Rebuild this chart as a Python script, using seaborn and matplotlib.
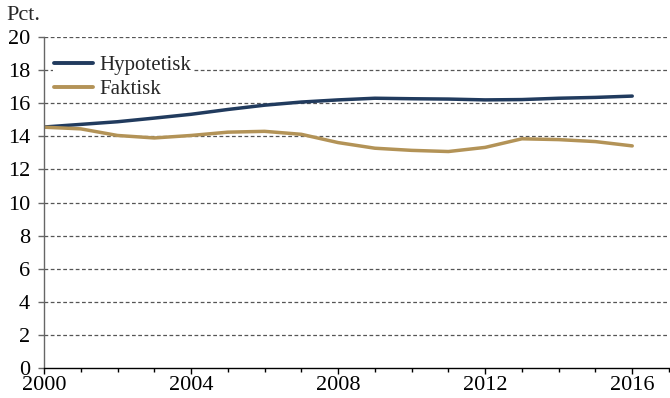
import matplotlib
matplotlib.use("Agg")
import matplotlib.pyplot as plt
import seaborn as sns
import pandas as pd
from matplotlib.ticker import MultipleLocator

years = list(range(2000, 2017))
hypotetisk = [14.56, 14.72, 14.88, 15.1, 15.33, 15.62, 15.88, 16.07, 16.2, 16.3,
              16.27, 16.25, 16.2, 16.22, 16.3, 16.35, 16.43]
faktisk = [14.55, 14.45, 14.05, 13.9, 14.05, 14.25, 14.3, 14.12, 13.62, 13.28,
           13.15, 13.08, 13.33, 13.85, 13.8, 13.68, 13.42]
series_names = ["Hypotetisk", "Faktisk"]
colors = ["#213b5e", "#b39357"]

df = pd.DataFrame({"År": years * 2,
                   "Pct": hypotetisk + faktisk,
                   "Serie": [series_names[0]] * len(years) + [series_names[1]] * len(years)})

sns.set_theme(style="white")
plt.rcParams["font.family"] = ["Liberation Serif", "DejaVu Serif"]

fig = plt.figure(figsize=(6.7, 3.98), dpi=100)
ax = fig.add_axes([44 / 670, 1 - 368 / 398, 625 / 670, 331 / 398])

sns.lineplot(data=df, x="År", y="Pct", hue="Serie", palette=colors,
             hue_order=series_names, linewidth=2.5, ax=ax, legend=True)

ax.set_xlim(2000, 2017)
ax.set_ylim(0, 20)
ax.xaxis.set_major_locator(MultipleLocator(4))
ax.xaxis.set_minor_locator(MultipleLocator(1))
ax.yaxis.set_major_locator(MultipleLocator(2))
ax.set_xlabel("")
ax.set_ylabel("")

for v in range(2, 21, 2):
    ax.axhline(v, color="#555555", linestyle=(0, (3, 2)), linewidth=0.9, zorder=0)

for s in ["top", "right"]:
    ax.spines[s].set_visible(False)
ax.spines["left"].set_color("#666666")
ax.spines["bottom"].set_color("#000000")
ax.spines["left"].set_linewidth(1.0)
ax.spines["bottom"].set_linewidth(1.0)

ax.tick_params(axis="both", which="major", direction="out", length=4, width=1,
               labelsize=16, colors="#000000")
ax.tick_params(axis="x", which="minor", direction="out", length=3, width=1,
               bottom=True, colors="#000000")
ax.tick_params(axis="y", which="major", left=True, color="#666666", pad=6)
ax.tick_params(axis="x", which="major", bottom=True, pad=1.5)
for lab in ax.get_xticklabels() + ax.get_yticklabels():
    lab.set_color("#000000")

leg = ax.legend(loc="upper left", bbox_to_anchor=(0.005, 0.966), frameon=True,
                fontsize=15, handlelength=1.87, handletextpad=0.3,
                labelspacing=0.2, borderpad=0.05, borderaxespad=0.3)
leg.get_frame().set_edgecolor("none")
leg.get_frame().set_facecolor("white")
leg.get_frame().set_alpha(1.0)
for line in leg.get_lines():
    line.set_linewidth(2.8)

fig.text(6 / 670, 1 - 16 / 398, "Pct.", fontsize=16, va="center", ha="left")

fig.savefig("out.png", dpi=100)
